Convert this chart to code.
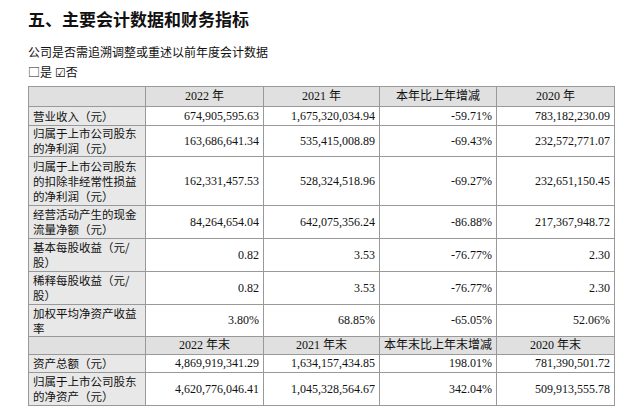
<!DOCTYPE html>
<html><head><meta charset="utf-8">
<script src="https://cdn.jsdelivr.net/npm/chart.js@4"></script>
<style>
body{margin:0;width:640px;height:413px;overflow:hidden;background:#fff;font-family:"Liberation Serif","Noto Sans CJK SC",serif;color:#111}
h1{position:absolute;left:28px;top:6px;margin:0;font-size:17px;font-family:"Noto Sans CJK SC";font-weight:bold}
.sub{position:absolute;left:28px;top:43px;font-size:12px;font-family:"Noto Sans CJK SC"}
.chk{position:absolute;left:28px;top:63px;font-size:12px;font-family:"Noto Sans CJK SC"}
table{position:absolute;left:28px;top:86px;border-collapse:collapse;font-size:12px;table-layout:fixed}
td{border:1px solid #999;padding:0 4px;line-height:15px;text-align:right;white-space:nowrap}
td.l{text-align:left;background:#e8e8e8;font-family:"Noto Sans CJK SC";font-size:11.5px}
tr.h td{background:#e0e0e0;text-align:center}
</style></head><body>
<h1>五、主要会计数据和财务指标</h1>
<div class="sub">公司是否需追溯调整或重述以前年度会计数据</div>
<div class="chk">□是 ☑否</div>
<table id="t"><colgroup><col style="width:117px"><col style="width:118px"><col style="width:116px"><col style="width:116px"><col style="width:118px"></colgroup></table>
<script>
const headers1 = ['', '2022 年', '2021 年', '本年比上年增减', '2020 年'];
const labels1 = ['营业收入（元）', '归属于上市公司股东<br>的净利润（元）', '归属于上市公司股东<br>的扣除非经常性损益<br>的净利润（元）', '经营活动产生的现金<br>流量净额（元）', '基本每股收益（元/<br>股）', '稀释每股收益（元/<br>股）', '加权平均净资产收益<br>率'];
const v2022 = ['674,905,595.63', '163,686,641.34', '162,331,457.53', '84,264,654.04', '0.82', '0.82', '3.80%'];
const v2021 = ['1,675,320,034.94', '535,415,008.89', '528,324,518.96', '642,075,356.24', '3.53', '3.53', '68.85%'];
const change1 = ['-59.71%', '-69.43%', '-69.27%', '-86.88%', '-76.77%', '-76.77%', '-65.05%'];
const v2020 = ['783,182,230.09', '232,572,771.07', '232,651,150.45', '217,367,948.72', '2.30', '2.30', '52.06%'];
const heights1 = [19, 31, 49, 33, 33, 33, 32];
const headers2 = ['', '2022 年末', '2021 年末', '本年末比上年末增减', '2020 年末'];
const labels2 = ['资产总额（元）', '归属于上市公司股东<br>的净资产（元）'];
const e2022 = ['4,869,919,341.29', '4,620,776,046.41'];
const e2021 = ['1,634,157,434.85', '1,045,328,564.67'];
const change2 = ['198.01%', '342.04%'];
const e2020 = ['781,390,501.72', '509,913,555.78'];
const heights2 = [18, 33];

const t = document.getElementById('t');
function head(h, ht) {
  t.insertAdjacentHTML('beforeend', '<tr class="h" style="height:' + ht + 'px">' + h.map((x, i) => '<td' + (i ? '' : ' class="l"') + '>' + x + '</td>').join('') + '</tr>');
}
function body(l, a, b, c, d, hs) {
  l.forEach((x, i) => t.insertAdjacentHTML('beforeend', '<tr style="height:' + hs[i] + 'px"><td class="l">' + x + '</td><td>' + a[i] + '</td><td>' + b[i] + '</td><td>' + c[i] + '</td><td>' + d[i] + '</td></tr>'));
}
head(headers1, 20);
body(labels1, v2022, v2021, change1, v2020, heights1);
head(headers2, 18);
body(labels2, e2022, e2021, change2, e2020, heights2);
</script>
</body></html>
